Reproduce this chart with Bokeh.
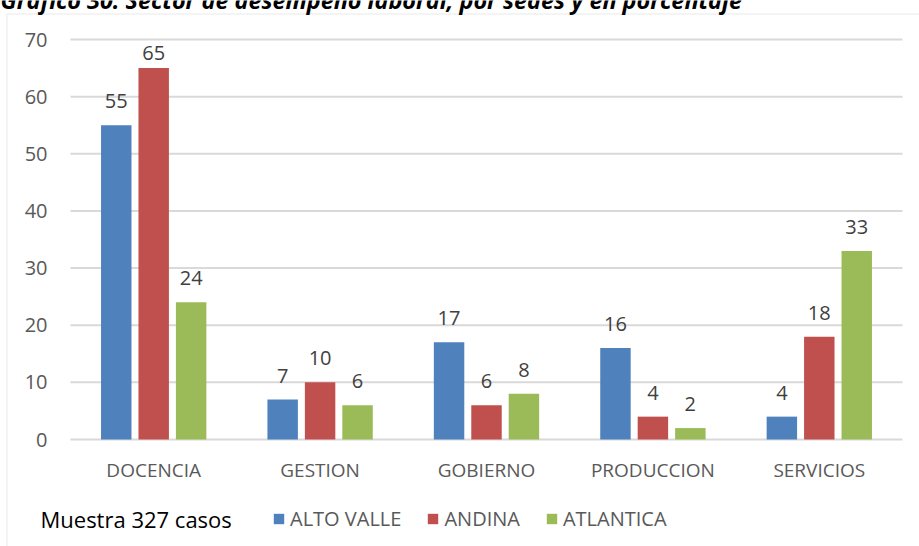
from bokeh.plotting import figure
from bokeh.models import (ColumnDataSource, Range1d, Label, Legend, LegendItem,
                          BoxAnnotation, FixedTicker, LinearAxis)
from bokeh.transform import dodge
from bokeh.core.properties import value
from bokeh.embed import file_html
from bokeh.resources import INLINE

# ---- data ----
categories = ["DOCENCIA", "GESTION", "GOBIERNO", "PRODUCCION", "SERVICIOS"]
series_names = ["ALTO VALLE", "ANDINA", "ATLANTICA"]
alto_valle = [55, 7, 17, 16, 4]
andina = [65, 10, 6, 4, 18]
atlantica = [24, 6, 8, 2, 33]
y_ticks = [0, 10, 20, 30, 40, 50, 60, 70]
title_text = "Gráfico 30: Sector de desempeño laboral, por sedes y en porcentaje"
note_text = "Muestra 327 casos"

colors = ["#4F81BD", "#C0504D", "#9BBB59"]
FONT = "Open Sans"

W, H = 919, 546
# plot area inside the canvas (pixels): left 70, right 902, y=0 at 439, y=70 at 39
PX_PER_CAT = (902 - 70) / len(categories)
PX_PER_UNIT = (439 - 39) / 70.0
x_start = -70 / PX_PER_CAT
x_end = len(categories) + (W - 902) / PX_PER_CAT
y_start = -(H - 439) / PX_PER_UNIT
y_end = 70 + 39 / PX_PER_UNIT

cat_pos = [i + 0.5 for i in range(len(categories))]

def lab_y(vals):
    return [min(v + 4.2, 67.6) for v in vals]

src = ColumnDataSource(dict(
    x=cat_pos,
    av=alto_valle, an=andina, at=atlantica,
    av_t=[str(v) for v in alto_valle], an_t=[str(v) for v in andina], at_t=[str(v) for v in atlantica],
    av_y=lab_y(alto_valle), an_y=lab_y(andina), at_y=lab_y(atlantica),
))
grid_src = ColumnDataSource(dict(y=y_ticks, x0=[0] * len(y_ticks), x1=[len(categories)] * len(y_ticks)))

p = figure(width=W, height=H, output_backend="svg", toolbar_location=None,
           x_range=Range1d(x_start, x_end), y_range=Range1d(y_start, y_end),
           x_axis_location=None, y_axis_location=None,
           min_border=0, min_border_left=0, min_border_right=0,
           min_border_top=0, min_border_bottom=0)
p.title.visible = False
p.outline_line_color = None
p.xgrid.visible = False
p.ygrid.visible = False

# border of the chart box
p.add_layout(BoxAnnotation(left=6.5, right=W + 20, top=H - 13.5, bottom=-20,
                           left_units="screen", right_units="screen",
                           top_units="screen", bottom_units="screen",
                           fill_alpha=0, line_color="#d9d9d9", line_width=2, level="underlay"))

# horizontal grid lines at the y ticks, across the category span
p.segment(x0="x0", x1="x1", y0="y", y1="y", source=grid_src,
          line_color="#d9d9d9", line_width=2, level="underlay")

off = 0.225
w = 0.183
renderers = []
for key, c, o in zip(["av", "an", "at"], colors, [-off, 0.0, off]):
    r = p.vbar(x=dodge("x", o), top=key, width=w, source=src,
               fill_color=c, line_color=None)
    renderers.append(r)
    p.text(x=dodge("x", o), y=key + "_y", text=key + "_t", source=src,
           text_align="center", text_baseline="alphabetic", text_font=value(FONT),
           text_font_size="20px", text_color="#404040")

# axes (fixed inside the canvas)
yax = LinearAxis(fixed_location=0, ticker=FixedTicker(ticks=y_ticks))
xax = LinearAxis(fixed_location=0, ticker=FixedTicker(ticks=cat_pos),
                 major_label_overrides={pos: name for pos, name in zip(cat_pos, categories)})
for ax in (xax, yax):
    ax.axis_line_color = None
    ax.major_tick_line_color = None
    ax.minor_tick_line_color = None
    ax.major_tick_in = 0
    ax.major_tick_out = 0
    ax.minor_tick_in = 0
    ax.minor_tick_out = 0
    ax.major_label_text_font = FONT
    ax.major_label_text_color = "#595959"
yax.major_label_text_font_size = "20px"
xax.major_label_text_font_size = "19px"
yax.major_label_standoff = 23
xax.major_label_standoff = 17
p.add_layout(yax, "left")
p.add_layout(xax, "below")

legend = Legend(items=[LegendItem(label=n, renderers=[r]) for n, r in zip(series_names, renderers)],
                orientation="horizontal", location=(272, 14),
                padding=0, margin=0, spacing=25, glyph_width=13, glyph_height=13,
                label_standoff=5, label_text_font=FONT, label_text_font_size="20px",
                label_text_color="#595959", border_line_color=None, background_fill_alpha=0)
p.add_layout(legend, "center")

p.add_layout(Label(x=40, y=H - 518, x_units="screen", y_units="screen", text=note_text,
                   text_font=FONT, text_font_size="22px", text_color="#000000",
                   text_baseline="alphabetic"))
p.add_layout(Label(x=0, y=H + 1, x_units="screen", y_units="screen", text=title_text,
                   text_font=FONT, text_font_size="23.4px", text_font_style="bold italic",
                   text_color="#000000", text_baseline="alphabetic"))

open("out.html", "w").write(file_html(p, INLINE))
